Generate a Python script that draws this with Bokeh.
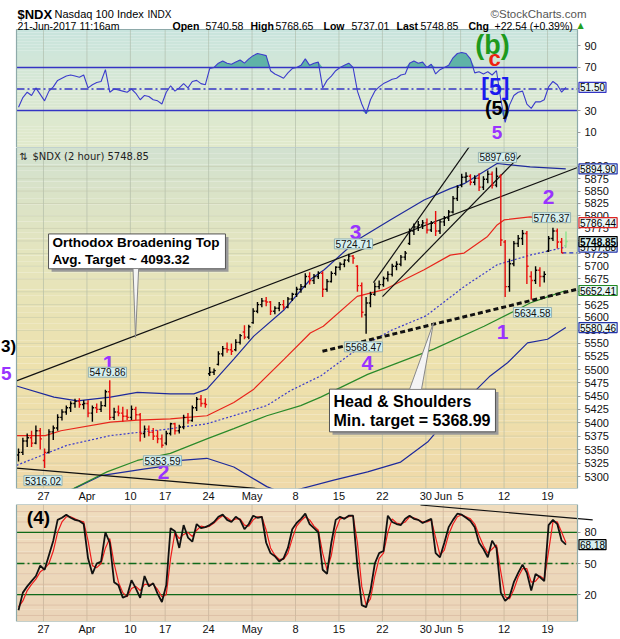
import numpy as np
from bokeh.plotting import figure
from bokeh.layouts import column
from bokeh.models import Range1d, FixedTicker, Label, NumeralTickFormatter, AllLabels
from bokeh.core.properties import value
from bokeh.embed import file_html
from bokeh.resources import INLINE

FONT = "Liberation Sans"

# ---------------- data ----------------
trading_days = [
    "2017-03-22", "2017-03-23", "2017-03-24",
    "2017-03-27", "2017-03-28", "2017-03-29", "2017-03-30", "2017-03-31",
    "2017-04-03", "2017-04-04", "2017-04-05", "2017-04-06", "2017-04-07",
    "2017-04-10", "2017-04-11", "2017-04-12", "2017-04-13",
    "2017-04-17", "2017-04-18", "2017-04-19", "2017-04-20", "2017-04-21",
    "2017-04-24", "2017-04-25", "2017-04-26", "2017-04-27", "2017-04-28",
    "2017-05-01", "2017-05-02", "2017-05-03", "2017-05-04", "2017-05-05",
    "2017-05-08", "2017-05-09", "2017-05-10", "2017-05-11", "2017-05-12",
    "2017-05-15", "2017-05-16", "2017-05-17", "2017-05-18", "2017-05-19",
    "2017-05-22", "2017-05-23", "2017-05-24", "2017-05-25", "2017-05-26",
    "2017-05-30", "2017-05-31", "2017-06-01", "2017-06-02",
    "2017-06-05", "2017-06-06", "2017-06-07", "2017-06-08", "2017-06-09",
    "2017-06-12", "2017-06-13", "2017-06-14", "2017-06-15", "2017-06-16",
    "2017-06-19", "2017-06-20", "2017-06-21",
]
tick_days = ["2017-03-27", "2017-04-03", "2017-04-10", "2017-04-17", "2017-04-24",
             "2017-05-01", "2017-05-08", "2017-05-15", "2017-05-22", "2017-05-30",
             "2017-06-01", "2017-06-05", "2017-06-12", "2017-06-19"]
tick_labels = ["27", "Apr", "10", "17", "24", "May", "8", "15", "22", "30", "Jun", "5", "12", "19"]
session_offsets = [0.125, 0.625]

bar_open = [
    5340, 5345, 5366, 5372, 5362, 5385,
    5330, 5345, 5383, 5390, 5410, 5420, 5428, 5436, 5440, 5434,
    5436, 5418, 5428, 5425, 5432, 5458, 5410, 5420, 5418, 5412,
    5410, 5425, 5415, 5380, 5388, 5382, 5375, 5370,
    5362, 5380, 5398, 5385, 5392, 5410, 5404, 5428, 5444, 5436,
    5492, 5495, 5510, 5530, 5540, 5538, 5538, 5552, 5572, 5562,
    5590, 5612, 5625, 5632, 5630, 5612, 5618, 5625, 5620, 5636,
    5645, 5655, 5660, 5680, 5672, 5680, 5686, 5655, 5670, 5686,
    5698, 5704, 5712, 5720, 5700, 5662, 5605, 5628, 5645, 5660,
    5664, 5676, 5684, 5700, 5704, 5718, 5745, 5770, 5778, 5782,
    5786, 5772, 5785, 5770, 5788, 5796, 5808, 5835,
    5862, 5878, 5880, 5868, 5876, 5858, 5874, 5884, 5862, 5880,
    5748, 5660, 5705, 5745, 5755, 5765, 5680, 5672, 5692, 5680,
    5730, 5755, 5770, 5748, 5740.58,
]
bar_high = [
    5352, 5372, 5380, 5385, 5395, 5390,
    5352, 5388, 5395, 5416, 5425, 5432, 5440, 5445, 5446, 5442,
    5442, 5432, 5436, 5440, 5462, 5479.86, 5428, 5432, 5430, 5425,
    5432, 5430, 5418, 5395, 5395, 5390, 5386, 5378,
    5385, 5400, 5400, 5396, 5415, 5418, 5432, 5448, 5452, 5446,
    5505, 5502, 5535, 5545, 5552, 5550, 5558, 5568, 5585, 5586,
    5618, 5630, 5638, 5640, 5632, 5622, 5630, 5634, 5640, 5648,
    5660, 5665, 5686, 5688, 5685, 5690, 5690, 5675, 5690, 5700,
    5708, 5714, 5724.71, 5722, 5702, 5668, 5640, 5650, 5668, 5672,
    5680, 5690, 5705, 5710, 5722, 5730, 5775, 5785, 5790, 5792,
    5795, 5790, 5810, 5792, 5800, 5812, 5840, 5862,
    5885, 5888, 5884, 5882, 5886, 5880, 5892, 5890, 5897.69, 5884,
    5752, 5715, 5750, 5762, 5772, 5770, 5690, 5700, 5698, 5690,
    5760, 5776.37, 5775, 5756, 5768.65,
]
bar_low = [
    5328, 5340, 5355, 5355, 5360, 5350,
    5316.02, 5343, 5368, 5385, 5404, 5415, 5420, 5428, 5428, 5425,
    5410, 5402, 5418, 5420, 5430, 5405, 5405, 5412, 5402, 5405,
    5405, 5405, 5365, 5372, 5375, 5368, 5362, 5353.59,
    5358, 5376, 5378, 5380, 5388, 5398, 5402, 5422, 5430, 5428,
    5488, 5490, 5508, 5525, 5532, 5528, 5535, 5548, 5558, 5558,
    5588, 5608, 5620, 5622, 5605, 5606, 5612, 5615, 5618, 5632,
    5640, 5648, 5658, 5664, 5665, 5675, 5640, 5650, 5668, 5682,
    5692, 5698, 5708, 5705, 5650, 5600, 5568.47, 5620, 5642, 5655,
    5660, 5670, 5680, 5692, 5700, 5712, 5742, 5762, 5770, 5774,
    5765, 5768, 5760, 5764, 5780, 5790, 5805, 5830,
    5858, 5868, 5862, 5862, 5850, 5852, 5866, 5855, 5858, 5740,
    5640, 5650, 5700, 5738, 5742, 5665, 5634.58, 5665, 5660, 5668,
    5728, 5750, 5735, 5726, 5737.01,
]
bar_close = [
    5345, 5366, 5372, 5362, 5385, 5370,
    5345, 5383, 5390, 5410, 5420, 5428, 5436, 5440, 5434, 5436,
    5418, 5428, 5425, 5432, 5458, 5410, 5420, 5418, 5412, 5410,
    5425, 5415, 5380, 5388, 5382, 5375, 5370, 5358,
    5380, 5398, 5385, 5392, 5410, 5404, 5428, 5444, 5436, 5434,
    5495, 5498, 5530, 5540, 5538, 5535, 5552, 5565, 5562, 5582,
    5612, 5625, 5632, 5630, 5612, 5618, 5625, 5620, 5636, 5645,
    5655, 5660, 5680, 5672, 5680, 5686, 5655, 5670, 5686, 5698,
    5704, 5712, 5720, 5716, 5662, 5610, 5628, 5645, 5660, 5664,
    5676, 5684, 5700, 5704, 5718, 5726, 5770, 5778, 5782, 5786,
    5772, 5785, 5770, 5788, 5796, 5808, 5835, 5858,
    5878, 5880, 5868, 5876, 5858, 5874, 5884, 5862, 5880, 5752,
    5660, 5705, 5745, 5755, 5765, 5700, 5672, 5692, 5680, 5684,
    5755, 5770, 5748, 5726.31, 5748.85,
]
rsi = [
    33, 42, 47, 44, 51, 45,
    39, 48, 52, 58, 60, 62, 63, 62, 61, 63,
    51, 54, 56, 57, 68, 47, 50, 49, 48, 47,
    50, 46, 40, 44, 43, 40, 39, 36,
    47, 53, 48, 51, 55, 51, 57, 58, 55, 54,
    69, 70, 74, 76, 74, 73, 75, 77, 74, 78,
    81, 83, 82, 81, 67, 64, 62, 60, 65, 69,
    70, 72, 78, 72, 74, 75, 51, 58, 62, 67,
    70, 72, 74, 70, 48, 36, 27, 40, 48, 52,
    55, 57, 59, 60, 63, 64, 74, 76, 74, 75,
    70, 73, 64, 68, 70, 72, 79, 83,
    84, 83, 78, 65, 66, 64, 66, 63, 67, 40,
    19, 35, 44, 47, 48, 36, 32, 38, 38, 40,
    52, 57, 54, 47, 51.5,
]
osc_k = [
    5, 22, 28, 33, 38, 48,
    44, 58, 72, 92, 94, 97, 94, 92, 91, 88,
    55, 40, 50, 52, 80, 70, 32, 29, 17, 19,
    34, 26, 17, 38, 28, 31, 21, 13,
    29, 84, 81, 65, 87, 75, 71, 88, 84, 85,
    87, 90, 95, 97, 92, 90, 95, 92, 83, 88,
    96, 94, 95, 70, 60, 57, 52, 55, 65, 83,
    89, 93, 98, 88, 84, 80, 44, 40, 70, 92,
    95, 93, 96, 96, 47, 10, 8, 24, 50, 60,
    62, 96, 90, 88, 87, 93, 96, 93, 92, 89,
    91, 93, 60, 56, 70, 85, 92, 98,
    97, 94, 91, 85, 70, 64, 56, 72, 65, 22,
    14, 18, 32, 41, 49, 41, 24, 40, 37, 33,
    87, 92, 88, 72, 68.18,
]
osc_d = [
    8, 14, 24, 30, 35, 42,
    45, 50, 62, 80, 90, 95, 95, 93, 91, 90,
    72, 48, 46, 50, 65, 74, 50, 32, 22, 18,
    26, 28, 24, 30, 30, 30, 25, 18,
    20, 55, 80, 74, 78, 80, 76, 82, 86, 85,
    86, 89, 93, 96, 94, 91, 93, 93, 87, 86,
    92, 95, 95, 82, 65, 58, 54, 54, 60, 74,
    86, 91, 95, 92, 86, 82, 60, 44, 58, 82,
    93, 94, 95, 96, 70, 28, 10, 16, 38, 55,
    60, 80, 93, 89, 88, 90, 95, 94, 92, 90,
    90, 92, 75, 58, 63, 78, 88, 95,
    97, 95, 93, 88, 77, 67, 60, 64, 68, 42,
    18, 16, 25, 37, 45, 45, 32, 33, 38, 35,
    62, 90, 90, 80, 70,
]

# indicator lines (x = trading-day index)
ma_red_x = [-0.1, 3.2, 5.0, 10.7, 13.8, 17.6, 21.8, 24.9, 27.2, 30.7, 33.7, 35.2, 39.1, 42.2,
            46.8, 49.8, 51.4, 54.1, 55.2, 56.0, 59.0, 63.1]
ma_red_y = [5376, 5376, 5385, 5401, 5405, 5407, 5413, 5438, 5463, 5520, 5570, 5583, 5641, 5654,
            5693, 5722, 5726, 5759, 5782, 5792, 5798, 5786.44]
bb_up_x = [-0.1, 4.2, 6.9, 10.7, 13.8, 17.6, 20.3, 21.8, 24.9, 27.2, 30.7, 33.7, 35.3, 39.1,
           42.9, 46.8, 49.8, 51.4, 55.2, 59.0, 63.1]
bb_up_y = [5469, 5448, 5441, 5448, 5457, 5454, 5454, 5463, 5520, 5564, 5615, 5674, 5693, 5752,
           5792, 5832, 5855, 5865, 5906, 5899, 5894.90]
bb_mid_x = [-0.1, 5.7, 10.7, 17.2, 21.8, 28.7, 31.4, 34.9, 39.1, 43.0, 47.0, 51.4, 55.2, 59.0, 63.1]
bb_mid_y = [5321, 5358, 5376, 5388, 5398, 5432, 5460, 5488, 5539, 5575, 5603, 5660, 5703, 5722, 5737.88]
bb_lo_x = [-0.1, 3.5, 6.5, 9.6, 14.5, 17.6, 18.8, 21.8, 24.9, 28.7, 30.6, 32.6, 36.4, 40.3, 44.1,
           47.2, 49.8, 52.5, 54.4, 56.4, 58.7, 61.0, 63.1]
bb_lo_y = [5225, 5255, 5278, 5302, 5314, 5321, 5330, 5334, 5318, 5282, 5270, 5278, 5294, 5309, 5327,
           5364, 5413, 5457, 5488, 5513, 5551, 5558, 5580.46]
ma_grn_x = [-0.1, 3.5, 6.5, 10.3, 13.8, 17.6, 21.8, 24.9, 28.7, 32.6, 34.9, 40.3, 47.9, 53.7,
            57.5, 59.0, 61.0, 63.1]
ma_grn_y = [5235, 5258, 5279, 5309, 5330, 5343, 5370, 5389, 5413, 5432, 5448, 5491, 5539, 5583,
            5615, 5628, 5640, 5652.41]

# hand-drawn annotation lines
broad_top_x = [-0.107, 64.45]
broad_top_y = [5478.6, 5898.0]
broad_low_x = [-0.107, 46.38]
broad_low_y = [5316.0, 5253.2]
broad_low_osc_x = [46.38, 66.2]
broad_low_osc_y = [106.3, 92.0]
chan_a_x = [40.97, 52.02]
chan_a_y = [5667.7, 5940.9]
chan_b_x = [42.01, 57.89]
chan_b_y = [5640.5, 5922.5]
neck_x = [35.1, 64.45]
neck_y = [5534.9, 5655.0]
prev_close = 5726.31

price_ticks = list(range(5300, 5901, 25))
rsi_ticks = [10, 30, 50, 70, 90]
osc_ticks = [20, 50, 80]
osc_grid = [0, 10, 20, 30, 40, 50, 60, 70, 80, 90, 100]

# ---------------- geometry ----------------
W = 619
PX = 8.69                      # pixels per trading day
PL, PR = -0.107, 64.45         # panel left / right edges (x units)
X0 = PL - 16 / PX              # x value at the left edge of the canvas
XR = Range1d(X0, X0 + W / PX)
TAG_X = 64.62
tick_pos = [trading_days.index(d) for d in tick_days]
bar_x = np.array([i + s for i in range(len(trading_days)) for s in session_offsets][:len(bar_close)])


def px(xpage):
    return X0 + xpage / PX


def hex2rgb(h):
    return np.array([int(h[i:i + 2], 16) for i in (1, 3, 5)], dtype=float)


def gradient(p, stops, lo, hi, n=40, log=False):
    edges = np.geomspace(hi, lo, n + 1) if log else np.linspace(hi, lo, n + 1)
    rgbs = [hex2rgb(s) for s in stops]
    cols = []
    for k in range(n):
        t = (k + 0.5) / n * (len(stops) - 1)
        j = min(int(t), len(stops) - 2)
        f = t - j
        cc = rgbs[j] * (1 - f) + rgbs[j + 1] * f
        cols.append("#%02x%02x%02x" % tuple(int(round(v)) for v in cc))
    p.quad(left=PL, right=PR, top=edges[:-1], bottom=edges[1:], fill_color=cols,
           line_color=None, level="image")


def frame_box(p, lo, hi):
    p.quad(left=PL, right=PR, top=hi, bottom=lo, fill_color=None, line_color="#8eaaaa", line_width=1.2)


def hlines(p, levels, color, width, dash="solid", alpha=1.0):
    p.segment(x0=[PL] * len(levels), y0=levels, x1=[PR] * len(levels), y1=levels,
              line_color=color, line_width=width, line_dash=dash, line_alpha=alpha)


def base_fig(height, yr, border_bottom, ytype="linear", xaxis=True):
    p = figure(width=W, height=height, x_range=XR, y_range=yr, y_axis_type=ytype,
               output_backend="svg", toolbar_location=None,
               x_axis_location="below" if xaxis else None, y_axis_location="right",
               min_border_left=0, min_border_right=0, min_border_top=0,
               min_border_bottom=border_bottom,
               background_fill_color="white", border_fill_color="white",
               outline_line_color=None)
    p.ygrid.grid_line_color = None
    p.xgrid.grid_line_color = None
    return p


def style_yaxis(ax, ticks):
    ax.fixed_location = PR
    ax.ticker = FixedTicker(ticks=ticks)
    ax.major_label_policy = AllLabels()
    ax.axis_line_color = None
    ax.major_tick_line_color = "#9a9a9a"
    ax.major_tick_in = 0
    ax.major_tick_out = 3
    ax.minor_tick_line_color = None
    ax.major_label_text_font = FONT
    ax.major_label_text_font_size = "11px"
    ax.major_label_text_color = "#111111"
    ax.major_label_standoff = 4


def style_xaxis(ax):
    ax.ticker = FixedTicker(ticks=tick_pos)
    ax.major_label_overrides = {pos: lab for pos, lab in zip(tick_pos, tick_labels)}
    ax.major_label_policy = AllLabels()
    ax.axis_line_color = None
    ax.major_tick_line_color = None
    ax.minor_tick_line_color = None
    ax.major_tick_in = 0
    ax.major_tick_out = 0
    ax.major_label_standoff = 1
    ax.major_label_text_font = FONT
    ax.major_label_text_font_size = "11px"
    ax.major_label_text_color = "#111111"


def tag(p, y, text, border, bold=False, bg="#e9f6f6"):
    p.add_layout(Label(x=TAG_X, y=y, text=text, text_align="left", text_baseline="middle",
                       text_font=FONT, text_font_size="10px",
                       text_font_style="bold" if bold else "normal", text_color="#000000",
                       background_fill_color=bg, border_line_color=border,
                       border_line_width=1.2, padding=1))


def vlabel(p, x, y, text):
    p.add_layout(Label(x=x, y=y, text=text, text_align="center", text_baseline="middle",
                       text_font=FONT, text_font_size="10px", text_color="#111111",
                       background_fill_color="#d6efee", border_line_color="#95b3b3",
                       border_line_width=1, padding=1))


def note(p, x, y, text, size, color="#000000", bold=False, font=FONT, align="left",
         baseline="alphabetic"):
    p.add_layout(Label(x=x, y=y, text=text, text_align=align, text_baseline=baseline,
                       text_font=font, text_font_size=size, text_color=color,
                       text_font_style="bold" if bold else "normal"))


# ---------------- top panel (RSI) + header ----------------
TOP_LO, TOP_HI, TOP_CANVAS = -4.4, 105.3, 132.28
p_top = base_fig(147, Range1d(TOP_LO, TOP_CANVAS), 0, xaxis=False)
style_yaxis(p_top.yaxis[0], rsi_ticks)
gradient(p_top, ["#c8e4dd", "#d8e8d4", "#e1e9cb"], TOP_LO, TOP_HI)
p_top.segment(x0=tick_pos, y0=TOP_LO, x1=tick_pos, y1=TOP_HI, line_color="#a9b5a3", line_alpha=0.55)
rsi_arr = np.array(rsi, dtype=float)
p_top.varea(x=bar_x, y1=70, y2=np.maximum(rsi_arr, 70), fill_color="#5fb3a7")
p_top.varea(x=bar_x, y1=np.minimum(rsi_arr, 30), y2=30, fill_color="#5fb3a7")
hlines(p_top, [70, 30], "#3434c4", 1.3)
hlines(p_top, [50], "#3434c4", 1.3, dash="8 3 2 3")
p_top.line(bar_x, rsi_arr, line_color="#3c3ccc", line_width=1.1)
frame_box(p_top, TOP_LO, TOP_HI)
tag(p_top, 51.5, "51.50", "#3434c4")
for t, yy, col, sz, xx in [("(b)", 90.5, "#1d9a1d", "27px", 54.67), ("c", 78.5, "#ee2211", "22px", 54.9),
                           ("[5]", 52.3, "#1b1bee", "23px", 55.0), ("(5)", 31.9, "#000000", "20px", 55.2),
                           ("5", 9.5, "#9933ff", "19px", 55.2)]:
    p_top.text(x=[xx], y=[yy], text=[t], text_color=col, text_font=value(FONT),
               text_font_style="bold", text_font_size=sz, text_align="center", text_baseline="middle")

# header lines (drawn above the RSI panel)
L1, L2 = 119.6, 108.2
note(p_top, px(17), L1, "$NDX", "13px", bold=True)
note(p_top, px(54), L1, "Nasdaq 100 Index", "11px")
note(p_top, px(147), L1, "INDX", "10px")
note(p_top, px(490), L1, "\u00a9StockCharts.com", "11.5px", color="#555555")
note(p_top, px(17), L2, "21-Jun-2017 11:16am", "10.5px")
for xp, t, b in [(172, "Open", True), (205, "5740.58", False), (250, "High", True), (275, "5768.65", False),
                 (323, "Low", True), (351, "5737.01", False), (396, "Last", True), (420, "5748.85", False),
                 (468, "Chg", True), (494, "+22.54 (+0.39%)", False)]:
    note(p_top, px(xp), L2, t, "10.5px", bold=b)
note(p_top, px(577), L2 + 0.6, "\u25b2", "8px", color="#22a022", font="DejaVu Sans")

# ---------------- main price panel ----------------
P_LO, P_HI = 5278.6, 5938.8
p_main = base_fig(357, Range1d(P_LO, P_HI), 14, ytype="log")
style_yaxis(p_main.yaxis[0], price_ticks)
p_main.yaxis[0].formatter = NumeralTickFormatter(format="0")
style_xaxis(p_main.xaxis[0])
gradient(p_main, ["#d2e1cf", "#e5e5bd", "#eee1ac", "#efd9a9"], P_LO, P_HI, n=60, log=True)
p_main.segment(x0=tick_pos, y0=P_LO, x1=tick_pos, y1=P_HI, line_color="#a9b5a3", line_alpha=0.55)
hlines(p_main, price_ticks, "#bfc4a6", 1, alpha=0.45)

p_main.line(bb_lo_x, bb_lo_y, line_color="#1e2a9c", line_width=1.2)
p_main.line(ma_grn_x, ma_grn_y, line_color="#2a8a2a", line_width=1.2)
p_main.line(bb_mid_x, bb_mid_y, line_color="#3a3acc", line_width=1.2, line_dash="2 2")
p_main.line(ma_red_x, ma_red_y, line_color="#e8261c", line_width=1.2)
p_main.line(bb_up_x, bb_up_y, line_color="#1e2a9c", line_width=1.2)
p_main.line([62.7, PR], [prev_close, prev_close], line_color="#2233cc", line_width=1.2, line_dash="4 3")

for xs, ys in [(broad_top_x, broad_top_y), (broad_low_x, broad_low_y),
               (chan_a_x, chan_a_y), (chan_b_x, chan_b_y)]:
    p_main.line(xs, ys, line_color="#111111", line_width=1.2)
p_main.line(neck_x, neck_y, line_color="#111111", line_width=3, line_dash="5 3")

o = np.array(bar_open, dtype=float)
h = np.array(bar_high, dtype=float)
lo = np.array(bar_low, dtype=float)
c = np.array(bar_close, dtype=float)
prev = np.concatenate([[o[0]], c[:-1]])
bar_colors = ["#e80c0c" if cc < pp else "#000000" for cc, pp in zip(c, prev)]
bar_colors[-1] = "#8be08b"
tw = 0.2
p_main.segment(x0=bar_x, y0=lo, x1=bar_x, y1=h, line_color=bar_colors, line_width=1.4)
p_main.segment(x0=bar_x - tw, y0=o, x1=bar_x, y1=o, line_color=bar_colors, line_width=1.4)
p_main.segment(x0=bar_x, y0=c, x1=bar_x + tw, y1=c, line_color=bar_colors, line_width=1.4)

sh_dx, sh_f = 0.35, 0.99897
for (l, r, t, b) in [(3.58, 23.94, 5764.0, 5695.0), (35.91, 55.01, 5463.0, 5383.0)]:
    p_main.quad(left=l + sh_dx, right=r + sh_dx, top=t * sh_f, bottom=b * sh_f,
                fill_color="#9a9a9a", line_color=None)
    p_main.quad(left=l, right=r, top=t, bottom=b, fill_color="white", line_color="#555555", line_width=1)
p_main.patch([13.30, 13.95, 13.59], [5695.5, 5695.5, 5561.6], fill_color="#f4f4f4",
             line_color="#888888", line_width=1)
p_main.patch([45.12, 46.5, 47.88], [5462.5, 5462.5, 5590.0], fill_color="#f4f4f4",
             line_color="#888888", line_width=1)
p_main.text(x=[4.04, 4.04], y=[5746.0, 5712.6],
            text=["Orthodox Broadening Top", "Avg. Target ~ 4093.32"],
            text_font=value(FONT), text_font_style="bold", text_font_size="13.5px",
            text_color="#000000", text_align="left", text_baseline="middle")
p_main.text(x=[36.37, 36.37], y=[5440.6, 5405.0],
            text=["Head & Shoulders", "Min. target = 5368.99"],
            text_font=value(FONT), text_font_style="bold", text_font_size="16px",
            text_color="#000000", text_align="left", text_baseline="middle")

p_main.text(x=[10.48, 16.81, 38.9, 40.28, 55.82, 61.11],
            y=[5512, 5309.5, 5768, 5512, 5571, 5837.7],
            text=["1", "2", "3", "4", "1", "2"], text_color="#9933ff",
            text_font=value(FONT), text_font_style="bold", text_font_size="21px",
            text_align="center", text_baseline="middle")
note(p_main, px(0.5), 5544, "3)", "17px", bold=True, align="left", baseline="middle")
note(p_main, px(0.5), 5492, "5", "19px", color="#9933ff", bold=True, align="left", baseline="middle")

for x, y, t in [(55.24, 5918.5, "5897.69"), (61.46, 5796.7, "5776.37"), (38.67, 5744.2, "5724.71"),
                (59.27, 5609.6, "5634.58"), (39.82, 5543.4, "5568.47"), (10.36, 5495.0, "5479.86"),
                (16.69, 5329.5, "5353.59"), (2.94, 5293.0, "5316.02")]:
    vlabel(p_main, x, y, t)

note(p_main, px(32), 5920.0, "$NDX (2 hour) 5748.85", "10px", color="#222222",
     font="DejaVu Sans", baseline="middle")
note(p_main, px(19), 5920.0, "\u21c5", "10px", color="#222222", font="DejaVu Sans", baseline="middle")
frame_box(p_main, P_LO, P_HI)

tag(p_main, 5894.90, "5894.90", "#2233aa")
tag(p_main, 5786.44, "5786.44", "#dd2222")
tag(p_main, 5737.88, "5737.88", "#2233aa")
tag(p_main, 5748.85, "5748.85", "#000000", bold=True, bg="#d6f1f1")
tag(p_main, 5652.41, "5652.41", "#228822")
tag(p_main, 5580.46, "5580.46", "#2233aa")

# ---------------- bottom oscillator ----------------
O_LO, O_HI = -5.8, 106.8
p_osc = base_fig(133, Range1d(O_LO, O_HI), 14)
style_yaxis(p_osc.yaxis[0], osc_ticks)
style_xaxis(p_osc.xaxis[0])
gradient(p_osc, ["#efdcbd", "#ebd5b9"], O_LO, O_HI, n=10)
p_osc.segment(x0=tick_pos, y0=O_LO, x1=tick_pos, y1=O_HI, line_color="#b9a890", line_alpha=0.55)
hlines(p_osc, osc_grid, "#d9b8a0", 1, alpha=0.7)
hlines(p_osc, [80, 20], "#0f6a1a", 1.3)
hlines(p_osc, [50], "#0f6a1a", 1.3, dash="8 3 2 3")
p_osc.line(bar_x, osc_d, line_color="#ee1c1c", line_width=1.2)
p_osc.line(bar_x, osc_k, line_color="#111111", line_width=1.8)
p_osc.line(broad_low_osc_x, broad_low_osc_y, line_color="#111111", line_width=1.2)
frame_box(p_osc, O_LO, O_HI)
note(p_osc, 2.42, 94, "(4)", "19px", bold=True, align="center", baseline="middle")
tag(p_osc, 68.18, "68.18", "#000000", bg="#d6f1f1")

layout = column(p_top, p_main, p_osc, spacing=0)
open("out.html", "w").write(file_html(layout, INLINE))
